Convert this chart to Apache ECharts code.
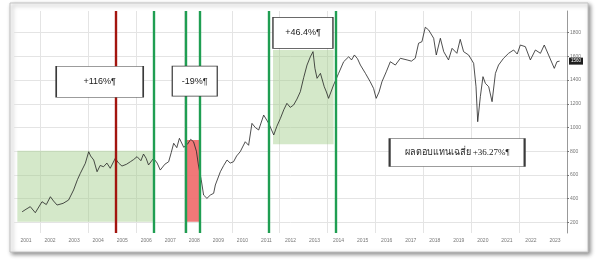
<!DOCTYPE html>
<html>
<head>
<meta charset="utf-8">
<script src="https://cdn.jsdelivr.net/npm/echarts@6/dist/echarts.min.js"></script>
<style>
html,body{margin:0;padding:0;background:#fff;}
#c{width:601px;height:261px;}
</style>
</head>
<body>
<div id="c"></div>
<script>
// ---- data ----
const yearLabels = ['2001','2002','2003','2004','2005','2006','2007','2008','2009','2010','2011','2012','2013','2014','2015','2016','2017','2018','2019','2020','2021','2022','2023'];
const times = [2001.24,2001.40,2001.58,2001.79,2002.07,2002.25,2002.42,2002.55,2002.70,2002.95,2003.18,2003.39,2003.55,2003.67,2003.88,2004.02,2004.10,2004.23,2004.37,2004.50,2004.64,2004.78,2004.92,2005.13,2005.27,2005.41,2005.60,2005.76,2005.90,2006.04,2006.20,2006.31,2006.42,2006.52,2006.73,2006.88,2007.01,2007.20,2007.36,2007.47,2007.57,2007.70,2007.81,2007.99,2008.15,2008.28,2008.40,2008.52,2008.61,2008.72,2008.82,2008.96,2009.10,2009.24,2009.31,2009.52,2009.66,2009.80,2009.93,2010.07,2010.20,2010.35,2010.56,2010.70,2010.84,2010.98,2011.12,2011.33,2011.54,2011.75,2011.88,2012.03,2012.17,2012.30,2012.44,2012.58,2012.72,2012.86,2013.00,2013.14,2013.28,2013.39,2013.47,2013.56,2013.70,2013.86,2013.95,2014.04,2014.25,2014.46,2014.67,2014.88,2015.00,2015.12,2015.25,2015.37,2015.58,2015.78,2015.92,2016.03,2016.15,2016.27,2016.45,2016.62,2016.83,2017.04,2017.32,2017.50,2017.66,2017.80,2017.94,2018.08,2018.22,2018.43,2018.54,2018.71,2018.85,2019.05,2019.20,2019.40,2019.54,2019.68,2019.89,2020.10,2020.20,2020.27,2020.38,2020.49,2020.59,2020.73,2020.87,2021.01,2021.14,2021.35,2021.56,2021.77,2021.92,2022.05,2022.26,2022.47,2022.68,2022.89,2023.05,2023.23,2023.47,2023.58,2023.69];
const values = [289,310,332,281,374,350,416,380,346,360,388,473,560,613,698,796,760,726,627,680,669,700,656,740,700,675,690,711,730,754,720,776,740,684,740,700,641,690,711,790,867,830,909,833,860,900,880,800,675,560,430,402,430,445,515,627,680,726,700,711,760,796,880,850,1035,1000,979,1105,1035,937,1010,1078,1150,1204,1170,1190,1240,1302,1420,1527,1597,1640,1500,1415,1457,1344,1300,1246,1359,1457,1555,1597,1570,1612,1580,1527,1457,1386,1330,1246,1300,1386,1470,1555,1527,1584,1570,1560,1584,1711,1724,1846,1823,1753,1612,1753,1640,1570,1668,1626,1744,1640,1612,1542,1344,1049,1260,1429,1373,1344,1218,1457,1527,1584,1626,1654,1620,1696,1682,1570,1654,1626,1696,1612,1499,1555,1560];
const redLines = [2005.16];
const greenLines = [2006.73, 2008.06, 2008.68, 2011.54, 2014.36];
const greenZones = [[2001.04, 205, 2006.73, 804], [2011.72, 858, 2014.25, 1654]];
const redZones = [[2008.06, 205, 2008.68, 894]];
const notes = ['+116%¶', '-19%¶', '+46.4%¶', 'ผลตอบแทนเฉลี่ย +36.27%¶'];
const noteAnchors = [[2004.48, 1386], [2008.45, 1392], [2012.97, 1799], [2019.41, 789]];

// ---- chart ----
const noteSizes = [[87, 31], [45, 30], [60, 31], [135, 28]];
const lineData = times.map((t, i) => [t, values[i]]);
const lastValue = values[values.length - 1];

const chart = echarts.init(document.getElementById('c'), null, {renderer: 'canvas'});
chart.setOption({
  animation: false,
  backgroundColor: '#fff',
  graphic: {
    elements: [{
      type: 'rect', z: -100,
      shape: {x: 10, y: 3, width: 578, height: 249},
      style: {fill: '#fff', stroke: '#c4c4c4', lineWidth: 1,
        shadowBlur: 4, shadowOffsetX: 2, shadowOffsetY: 2, shadowColor: 'rgba(0,0,0,0.45)'}
    }]
  },
  grid: {left: 14, right: 34, top: 11, bottom: 28},
  xAxis: [{
    type: 'value', min: 2000.9, max: 2024.0, splitNumber: 12,
    axisLine: {show: false}, axisTick: {show: false}, axisLabel: {show: false},
    splitLine: {show: true, showMinLine: false, showMaxLine: false, lineStyle: {color: '#e4e4e4', width: 1}}
  }, {
    type: 'category', data: yearLabels, position: 'bottom', boundaryGap: true,
    axisLine: {show: false}, axisTick: {show: false}, splitLine: {show: false},
    axisLabel: {fontSize: 5, color: '#777', margin: 5, fontFamily: 'Liberation Sans', interval: 0}
  }],
  yAxis: {
    type: 'value', position: 'right', min: 110, max: 1983, splitNumber: 9,
    axisLine: {show: true, lineStyle: {color: '#999', width: 1}},
    axisTick: {show: true, length: 2, lineStyle: {color: '#777'}},
    axisLabel: {fontSize: 5, color: '#777', margin: 3, showMinLabel: false, showMaxLabel: false,
      fontFamily: 'Liberation Sans', formatter: v => String(Math.round(v))},
    splitLine: {show: true, showMinLine: false, showMaxLine: false, lineStyle: {color: '#e4e4e4', width: 1}}
  },
  series: [{
    type: 'line', name: 'zones', data: [], z: 1,
    markArea: {
      silent: true,
      data: greenZones.map(z => [{xAxis: z[0], yAxis: z[1], itemStyle: {color: 'rgba(160,205,135,0.45)'}}, {xAxis: z[2], yAxis: z[3]}])
        .concat(redZones.map(z => [{xAxis: z[0], yAxis: z[1], itemStyle: {color: 'rgba(240,105,105,0.9)'}}, {xAxis: z[2], yAxis: z[3]}]))
    }
  }, {
    type: 'line', name: 'index', data: lineData, showSymbol: false, z: 3,
    lineStyle: {color: '#222', width: 0.8},
    markLine: {
      silent: true, symbol: ['none', 'none'],
      lineStyle: {color: 'rgba(0,0,0,0)', width: 1, type: 'solid'},
      label: {show: true, position: 'end', distance: 2, formatter: String(lastValue),
        backgroundColor: '#1e1e1e', color: '#fff', fontSize: 4.5, padding: [1, 2], fontFamily: 'Liberation Sans'},
      data: [{yAxis: lastValue}]
    }
  }, {
    type: 'line', name: 'events', data: [], z: 4,
    markLine: {
      silent: true, symbol: ['none', 'none'], label: {show: false},
      data: redLines.map(x => ({xAxis: x, lineStyle: {color: '#a3150f', width: 2.4, type: 'solid'}}))
        .concat(greenLines.map(x => ({xAxis: x, lineStyle: {color: '#1f9e52', width: 2.4, type: 'solid'}})))
    }
  }, {
    type: 'scatter', name: 'notes', z: 6,
    data: noteAnchors.map((p, i) => ({
      value: p, symbol: 'rect', symbolSize: noteSizes[i],
      itemStyle: {color: '#fff', borderColor: '#3a3a3a', borderWidth: 1, opacity: 1},
      label: {show: true, position: 'inside', formatter: notes[i], color: '#222', fontSize: 9,
        fontFamily: i === 3 ? '"Liberation Serif", "Noto Sans", serif' : '"Liberation Sans", Arial, sans-serif'}
    })),
    silent: true
  }]
});
</script>
</body>
</html>
